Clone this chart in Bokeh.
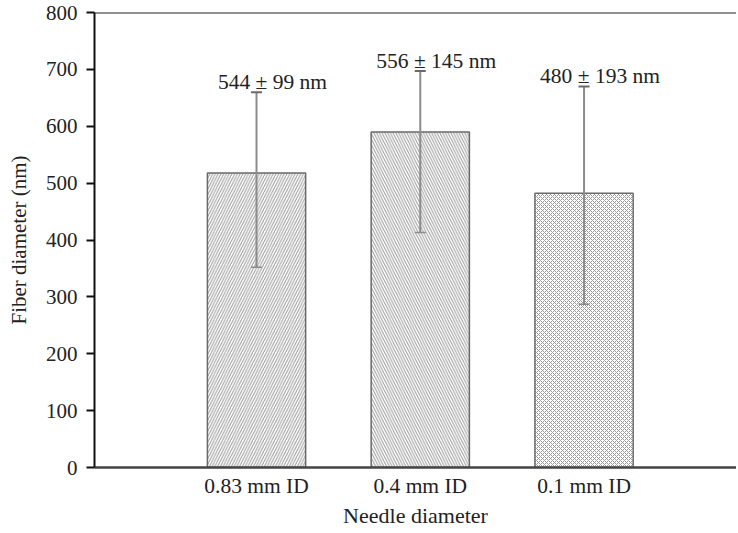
from bokeh.plotting import figure
from bokeh.models import ColumnDataSource, Range1d, FixedTicker, Whisker, TeeHead, Span
from bokeh.embed import file_html
from bokeh.resources import INLINE

categories = ["0.83 mm ID", "0.4 mm ID", "0.1 mm ID"]
means = [518, 590, 482]
upper = [660, 697, 670]
lower = [352, 413, 287]
labels = ["544 \u00b1 99 nm", "556 \u00b1 145 nm", "480 \u00b1 193 nm"]
hatches = ["/", "\\", "x"]
hatch_scales = [5.5, 5.5, 4.0]
y_ticks = [0, 100, 200, 300, 400, 500, 600, 700, 800]

xs = [i + 1 for i in range(len(categories))]
src = ColumnDataSource(dict(x=xs, top=means, upper=upper, lower=lower,
                            label=labels, hatch=hatches, hscale=hatch_scales))

FONT = "Liberation Serif"

p = figure(width=736, height=530, output_backend="svg", toolbar_location=None,
           x_range=Range1d(0.0107, 3.931), y_range=Range1d(0, 800),
           min_border_left=94, min_border_top=12, min_border_bottom=56,
           min_border_right=0)
p.outline_line_color = None
p.xgrid.visible = False
p.ygrid.visible = False
p.background_fill_color = "white"

p.vbar(x="x", top="top", bottom=0, width=0.6, source=src,
       fill_color="white", line_color="#6a6a6a", line_width=1.5,
       hatch_pattern="hatch", hatch_color="#9a9a9a", hatch_weight=1.0,
       hatch_scale="hscale")

w = Whisker(base="x", upper="upper", lower="lower", source=src, level="annotation",
            line_color="#8c8c8c", line_width=2,
            upper_head=TeeHead(size=11, line_color="#6a6a6a", line_width=2),
            lower_head=TeeHead(size=11, line_color="#8c8c8c", line_width=1.5))
p.add_layout(w)

p.text(x="x", y="upper", text="label", source=src,
       text_font={"value": FONT}, text_font_size="21.5px", text_color="#222222",
       text_align="center", text_baseline="alphabetic",
       x_offset=16, y_offset=-10)

p.add_layout(Span(location=800, dimension="width", line_color="#222222", line_width=2))

# y axis
ya = p.yaxis[0]
ya.ticker = FixedTicker(ticks=y_ticks)
ya.axis_label = "Fiber diameter (nm)"
ya.axis_label_text_font = FONT
ya.axis_label_text_font_style = "normal"
ya.axis_label_text_font_size = "21px"
ya.axis_label_text_color = "#222222"
ya.axis_label_standoff = 12
ya.major_label_text_font = FONT
ya.major_label_text_font_size = "21px"
ya.major_label_text_color = "#222222"
ya.major_label_standoff = 9
ya.major_tick_out = 8
ya.major_tick_in = 0
ya.minor_tick_line_color = None
ya.axis_line_width = 2
ya.axis_line_color = "#111111"
ya.major_tick_line_width = 2
ya.major_tick_line_color = "#111111"

# x axis
xa = p.xaxis[0]
xa.ticker = FixedTicker(ticks=xs)
xa.major_label_overrides = {x: c for x, c in zip(xs, categories)}
xa.axis_label = "Needle diameter"
xa.axis_label_text_font = FONT
xa.axis_label_text_font_style = "normal"
xa.axis_label_text_font_size = "22px"
xa.axis_label_text_color = "#222222"
xa.axis_label_standoff = 2
xa.major_label_text_font = FONT
xa.major_label_text_font_size = "21.5px"
xa.major_label_text_color = "#222222"
xa.major_label_standoff = 0
xa.major_tick_line_color = None
xa.minor_tick_line_color = None
xa.axis_line_width = 2.5
xa.axis_line_color = "#444444"

open("out.html", "w").write(file_html(p, INLINE))
